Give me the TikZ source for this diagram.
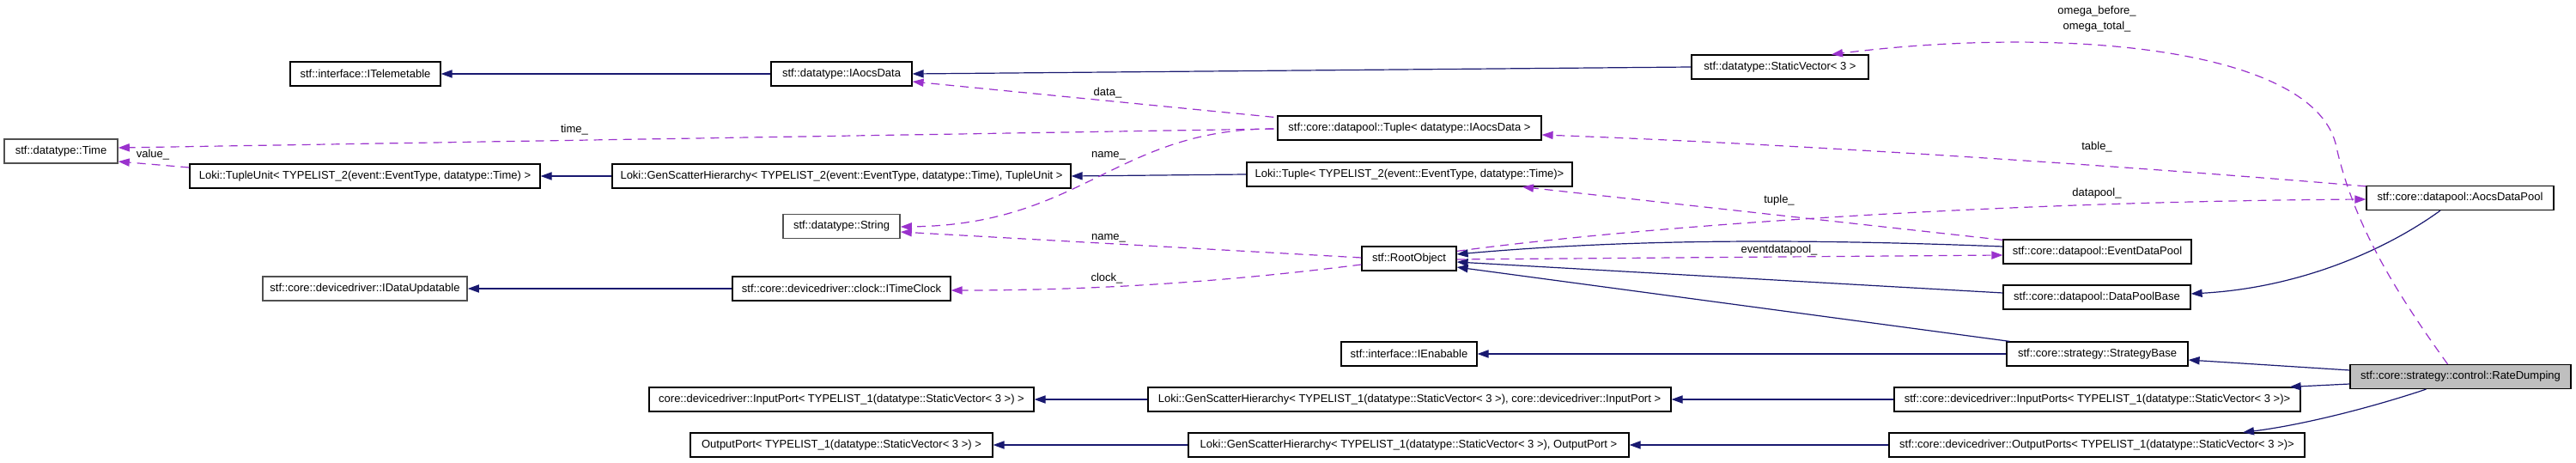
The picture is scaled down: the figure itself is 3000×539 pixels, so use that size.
\documentclass[tikz,border=0pt]{standalone}
\usepackage{fontspec}
\setmainfont{Liberation Sans}
\usetikzlibrary{arrows.meta,calc}
\definecolor{inhblue}{HTML}{191970}
\definecolor{usepurple}{HTML}{9A32CD}
\definecolor{greyborder}{HTML}{505050}
\definecolor{mainfill}{HTML}{BFBFBF}
\tikzset{
  box/.style={draw=black, fill=white, line width=0.6pt, inner sep=0pt,
    minimum height=14pt, font=\fontsize{6.5pt}{7.5pt}\selectfont},
  greybox/.style={box, draw=greyborder, line width=0.8pt},
  mainbox/.style={box, fill=mainfill},
  inh/.style={draw=inhblue, line width=0.6pt, -{Triangle[length=6.5pt,width=4.6pt]}},
  usage/.style={draw=usepurple, line width=0.6pt, dash pattern=on 5pt off 3.5pt,
    -{Triangle[length=6.5pt,width=4.6pt,fill=usepurple]}},
  lbl/.style={inner sep=0pt, font=\fontsize{6.5pt}{7.5pt}\selectfont}
}
\newcommand\bx[6]{\node[#1, minimum width=#5*0.5pt] (#2) at (#3,#4) {#6};}
\begin{document}
\begin{tikzpicture}[x=0.5pt,y=-0.5pt]
\useasboundingbox (0,0) rectangle (3000,539);
% nodes
\bx{box}{ITelemetable}{425.5}{86}{175}{stf::interface::ITelemetable}
\bx{box}{IAocsData}{980}{86}{164}{stf::datatype::IAocsData}
\bx{box}{StaticVector}{2073}{78}{206}{stf::datatype::StaticVector< 3 >}
\bx{greybox}{Time}{71}{176}{132}{stf::datatype::Time}
\bx{box}{TupleCore}{1641.5}{149}{307}{stf::core::datapool::Tuple< datatype::IAocsData >}
\bx{box}{TupleUnit}{425}{205}{408}{Loki::TupleUnit< TYPELIST\_2(event::EventType, datatype::Time) >}
\bx{box}{GenScatterTU}{980}{205}{534}{Loki::GenScatterHierarchy< TYPELIST\_2(event::EventType, datatype::Time), TupleUnit >}
\bx{box}{LokiTuple}{1641.5}{203}{379}{Loki::Tuple< TYPELIST\_2(event::EventType, datatype::Time)>}
\bx{greybox}{String}{980}{263.5}{136}{stf::datatype::String}
\bx{box}{AocsDataPool}{2865}{230.5}{218}{stf::core::datapool::AocsDataPool}
\bx{box}{RootObject}{1641}{301}{110}{stf::RootObject}
\bx{box}{EventDataPool}{2442.5}{293}{219}{stf::core::datapool::EventDataPool}
\bx{greybox}{IDataUpdatable}{425}{336}{238}{stf::core::devicedriver::IDataUpdatable}
\bx{box}{ITimeClock}{980}{336}{254}{stf::core::devicedriver::clock::ITimeClock}
\bx{box}{DataPoolBase}{2442}{346}{218}{stf::core::datapool::DataPoolBase}
\bx{box}{IEnabable}{1641}{412}{158}{stf::interface::IEnabable}
\bx{box}{StrategyBase}{2442.5}{412}{211}{stf::core::strategy::StrategyBase}
\bx{mainbox}{RateDumping}{2865.5}{438.5}{257}{stf::core::strategy::control::RateDumping}
\bx{box}{InputPort}{980}{465}{448}{core::devicedriver::InputPort< TYPELIST\_1(datatype::StaticVector< 3 >) >}
\bx{box}{GenScatterIP}{1641.5}{465}{609}{Loki::GenScatterHierarchy< TYPELIST\_1(datatype::StaticVector< 3 >), core::devicedriver::InputPort >}
\bx{box}{InputPorts}{2442.5}{465}{473}{stf::core::devicedriver::InputPorts< TYPELIST\_1(datatype::StaticVector< 3 >)>}
\bx{box}{OutputPort}{980}{518}{352}{OutputPort< TYPELIST\_1(datatype::StaticVector< 3 >) >}
\bx{box}{GenScatterOP}{1640.5}{518}{513}{Loki::GenScatterHierarchy< TYPELIST\_1(datatype::StaticVector< 3 >), OutputPort >}
\bx{box}{OutputPorts}{2442}{518}{484}{stf::core::devicedriver::OutputPorts< TYPELIST\_1(datatype::StaticVector< 3 >)>}
% inheritance
\draw[inh] (IAocsData.west) -- (ITelemetable.east);
\draw[inh] (StaticVector.west) -- (IAocsData.east);
\draw[inh] (GenScatterTU.west) -- (TupleUnit.east);
\draw[inh] (LokiTuple.west) -- (GenScatterTU.east);
\draw[inh] ($(EventDataPool.west)+(0,-6)$) .. controls (2100,278) and (1900,278) .. ($(RootObject.east)+(0,-5)$);
\draw[inh] ($(DataPoolBase.west)+(0,-5)$) -- ($(RootObject.east)+(0,4)$);
\draw[inh] ($(StrategyBase.north west)+(4,0)$) -- ($(RootObject.east)+(0,10)$);
\draw[inh] (ITimeClock.west) -- (IDataUpdatable.east);
\draw[inh] ($(AocsDataPool.south)+(-23,0)$) .. controls (2780,290) and (2680,335) .. ($(DataPoolBase.east)+(0,-4)$);
\draw[inh] (StrategyBase.west) -- (IEnabable.east);
\draw[inh] ($(RateDumping.west)+(0,-7.5)$) -- ($(StrategyBase.east)+(0,7)$);
\draw[inh] ($(RateDumping.west)+(0,8.5)$) -- ($(InputPorts.north east)+(-13,0)$);
\draw[inh] ($(RateDumping.south)+(-40,0)$) .. controls (2760,475) and (2680,495) .. ($(OutputPorts.north)+(170,0)$);
\draw[inh] (InputPorts.west) -- (GenScatterIP.east);
\draw[inh] (GenScatterIP.west) -- (InputPort.east);
\draw[inh] (OutputPorts.west) -- (GenScatterOP.east);
\draw[inh] (GenScatterOP.west) -- (OutputPort.east);
% usage
\draw[usage] ($(TupleCore.north west)+(-4,2)$) -- ($(IAocsData.east)+(0,9)$);
\node[lbl] (ldata) at (1290,108) {data\_};
\draw[usage] ($(TupleCore.west)+(-4,1)$) -- ($(Time.east)+(0,-4)$);
\node[lbl] (ltime) at (669,151) {time\_};
\draw[usage] ($(TupleCore.west)+(-4,1)$) .. controls (1300,150) and (1260,262) .. ($(String.east)+(0,0.5)$);
\node[lbl] (lname1) at (1291,181) {name\_};
\draw[usage] ($(TupleUnit.west)+(0,-10)$) -- ($(Time.east)+(0,12)$);
\node[lbl] (lvalue) at (178,180) {value\_};
\draw[usage] ($(AocsDataPool.north west)+(0,1)$) .. controls (2500,195) and (2100,168) .. ($(TupleCore.east)+(0,8)$);
\node[lbl] (ltable) at (2442,171) {table\_};
\draw[usage] ($(EventDataPool.north west)+(0,1)$) -- ($(LokiTuple.south)+(131.5,0)$);
\node[lbl] (ltuple) at (2072,233) {tuple\_};
\draw[usage] ($(RootObject.north east)+(0,6)$) .. controls (1900,265) and (2300,235) .. ($(AocsDataPool.west)+(0,1.5)$);
\node[lbl] (ldatapool) at (2442,225) {datapool\_};
\draw[usage] ($(RootObject.east)+(0,1)$) -- ($(EventDataPool.west)+(0,4)$);
\node[lbl] (levent) at (2072,291) {eventdatapool\_};
\draw[usage] ($(RootObject.west)+(0,-1)$) -- ($(String.east)+(0,6.5)$);
\node[lbl] (lname2) at (1291,277) {name\_};
\draw[usage] ($(RootObject.west)+(0,7)$) .. controls (1450,325) and (1300,338) .. ($(ITimeClock.east)+(0,2)$);
\node[lbl] (lclock) at (1289,324) {clock\_};
\draw[usage] ($(RateDumping.north)+(-15,0)$) .. controls (2790,340) and (2740,260) .. (2720,167)
  .. controls (2690,55) and (2400,30) .. ($(StaticVector.north)+(60,0)$);
\node[lbl] (lomega1) at (2442,13) {omega\_before\_};
\node[lbl] (lomega2) at (2442,31) {omega\_total\_};
\end{tikzpicture}
\end{document}
